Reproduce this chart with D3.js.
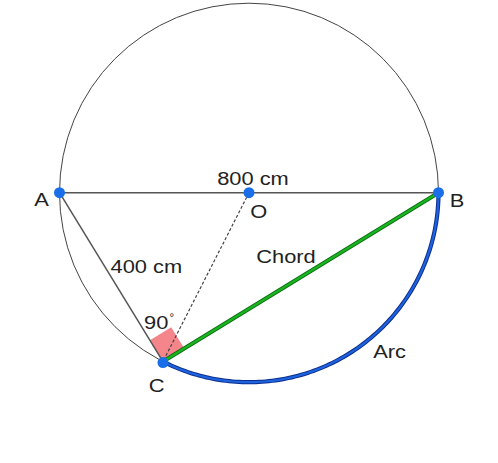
<!DOCTYPE html>
<html><head><meta charset="utf-8">
<script src="https://cdn.jsdelivr.net/npm/d3@7"></script>
<style>body{margin:0;background:#fff}svg{display:block}text{font-family:"Liberation Sans",Arial,sans-serif;fill:#222}</style>
</head><body><svg id="c" width="498" height="463"></svg>
<script>
// geometry in cm, centre O at origin
const radius = 400;
const pointNames = ["A", "B", "O", "C"];
const pointAngles = [180, 0, null, 243]; // degrees on circle (null = centre)
const lengthLabels = ["800 cm", "400 cm"];
const partLabels = ["Chord", "Arc"];
const angleLabel = ["90", "°"];

const svg = d3.select("#c");
const x = d3.scaleLinear().domain([-400, 400]).range([59.5, 438.5]);
const y = d3.scaleLinear().domain([-400, 400]).range([382.2, 3.2]);
const pt = {};
pointNames.forEach((n, i) => {
  const a = pointAngles[i];
  pt[n] = a === null ? [0, 0] : [radius * Math.cos(a * Math.PI / 180), radius * Math.sin(a * Math.PI / 180)];
});
const P = n => [x(pt[n][0]), y(pt[n][1])];
const rpx = x(radius) - x(0);

// circle
svg.append("circle").attr("cx", x(0)).attr("cy", y(0)).attr("r", rpx)
  .attr("fill", "none").attr("stroke", "#444").attr("stroke-width", 1);

// right angle square at C
const C = P("C"), A = P("A"), B = P("B"), O = P("O");
const unit = (p, q) => { const dx = q[0] - p[0], dy = q[1] - p[1], l = Math.hypot(dx, dy); return [dx / l, dy / l]; };
const ua = unit(C, A), ub = unit(C, B), s = 25;
svg.append("path").attr("d", d3.line()([C, [C[0] + ua[0] * s, C[1] + ua[1] * s], [C[0] + (ua[0] + ub[0]) * s, C[1] + (ua[1] + ub[1]) * s], [C[0] + ub[0] * s, C[1] + ub[1] * s]]) + "Z")
  .attr("fill", "#f4858a").attr("stroke", "none");

// diameter AB and chord AC
svg.append("line").attr("x1", A[0]).attr("y1", A[1]).attr("x2", B[0]).attr("y2", B[1]).attr("stroke", "#555").attr("stroke-width", 1.5);
svg.append("line").attr("x1", A[0]).attr("y1", A[1]).attr("x2", C[0]).attr("y2", C[1]).attr("stroke", "#555").attr("stroke-width", 1.5);
// dashed radius OC
svg.append("line").attr("x1", O[0]).attr("y1", O[1]).attr("x2", C[0]).attr("y2", C[1]).attr("stroke", "#444").attr("stroke-width", 1.2).attr("stroke-dasharray", "3,2");

// arc C -> B (lower)
const arcPts = d3.range(pointAngles[3], 360.01, 1).map(a => [x(radius * Math.cos(a * Math.PI / 180)), y(radius * Math.sin(a * Math.PI / 180))]);
svg.append("path").attr("d", d3.line()(arcPts)).attr("fill", "none").attr("stroke", "#0a2f8a").attr("stroke-width", 4.2);
svg.append("path").attr("d", d3.line()(arcPts)).attr("fill", "none").attr("stroke", "#1f62e0").attr("stroke-width", 2.2);

// chord C -> B
svg.append("line").attr("x1", C[0]).attr("y1", C[1]).attr("x2", B[0]).attr("y2", B[1]).attr("stroke", "#0b6b12").attr("stroke-width", 4.2);
svg.append("line").attr("x1", C[0]).attr("y1", C[1]).attr("x2", B[0]).attr("y2", B[1]).attr("stroke", "#19b51f").attr("stroke-width", 2.2);

// points
["A", "B", "O"].forEach(n => svg.append("circle").attr("cx", P(n)[0]).attr("cy", P(n)[1]).attr("r", 5.5).attr("fill", "#1a6fe8"));
svg.append("circle").attr("cx", C[0]).attr("cy", C[1] + 1).attr("r", 5.5).attr("fill", "#1a6fe8");

// labels (glyphs are horizontally wide in the reference)
const fs = 19, sx = 1.15;
const lab = (t, px, py) => svg.append("text")
  .attr("transform", `translate(${px},${py}) scale(${sx},1)`)
  .attr("font-size", fs).attr("text-anchor", "middle").text(t);
lab(pointNames[0], 41.5, 205.7);
lab(pointNames[1], 457, 206.5);
lab(pointNames[2], 258.7, 217.5);
lab(pointNames[3], 156.7, 392.2);
lab(lengthLabels[0], 253, 185);
lab(lengthLabels[1], 146.3, 273.3);
lab(partLabels[0], 286, 263.3);
lab(partLabels[1], 389.5, 358.3);
const t90 = svg.append("text").attr("transform", `translate(144,329.3) scale(${sx},1)`).attr("font-size", fs);
t90.append("tspan").attr("x", 0).text(angleLabel[0]);
t90.append("tspan").attr("font-size", 10).attr("dx", 1).attr("dy", -8).text(angleLabel[1]);
</script></body></html>
